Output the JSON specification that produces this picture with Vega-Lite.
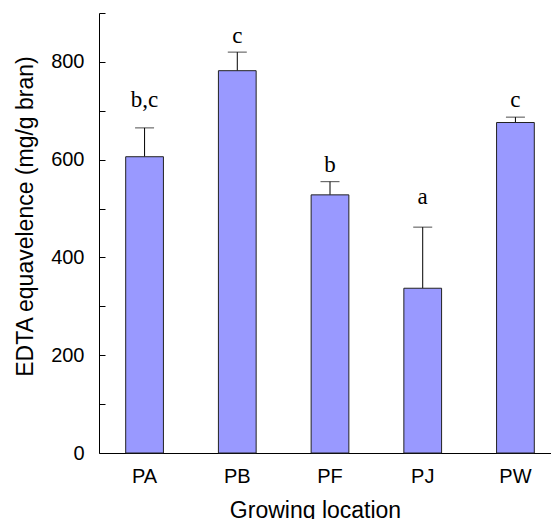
{
  "$schema": "https://vega.github.io/schema/vega-lite/v6.json",
  "width": 462,
  "height": 440,
  "autosize": "none",
  "padding": {"left": 99, "top": 13, "right": 0, "bottom": 66},
  "background": "white",
  "config": {
    "view": {"stroke": null},
    "axis": {"labelFont": "Liberation Sans", "titleFont": "Liberation Sans", "labelColor": "black", "titleColor": "black", "domainColor": "black", "tickColor": "black", "grid": false}
  },
  "data": {
    "values": [
      {"loc": "PA", "mean": 606, "upper": 665, "letter": "b,c", "labelPos": 707},
      {"loc": "PB", "mean": 782, "upper": 820, "letter": "c", "labelPos": 839},
      {"loc": "PF", "mean": 528, "upper": 555, "letter": "b", "labelPos": 575},
      {"loc": "PJ", "mean": 337, "upper": 462, "letter": "a", "labelPos": 509},
      {"loc": "PW", "mean": 676, "upper": 687, "letter": "c", "labelPos": 708}
    ]
  },
  "encoding": {
    "x": {
      "field": "loc", "type": "nominal",
      "scale": {"paddingInner": 0.593, "paddingOuter": 0.288},
      "axis": {
        "title": "Growing location", "labelAngle": 0, "ticks": false,
        "labelFontSize": 20, "labelPadding": 13,
        "titleFontSize": 23, "titleFontWeight": "normal",
        "titleX": 216, "titleY": 64, "titleBaseline": "alphabetic", "titleAlign": "center"
      }
    },
    "y": {
      "field": "mean", "type": "quantitative",
      "scale": {"domain": [0, 900], "nice": false},
      "axis": {
        "title": "EDTA equavelence (mg/g bran)",
        "values": [0, 100, 200, 300, 400, 500, 600, 700, 800, 900],
        "labelExpr": "datum.value % 200 == 0 ? datum.label : ''",
        "tickSize": -6, "labelPadding": 21, "labelFontSize": 20,
        "titleFontSize": 23, "titleFontWeight": "normal",
        "titleX": -67, "titleY": 203, "titleAngle": -90, "titleBaseline": "alphabetic", "titleAlign": "center"
      }
    }
  },
  "layer": [
    {
      "mark": {"type": "rule", "color": "black", "strokeWidth": 1},
      "encoding": {
        "y2": {"field": "upper"}
      }
    },
    {
      "mark": {"type": "tick", "color": "black", "size": 19, "thickness": 1, "orient": "horizontal"},
      "encoding": {"y": {"field": "upper", "type": "quantitative"}}
    },
    {
      "mark": {"type": "bar", "fill": "#9999FF", "stroke": "#222222", "strokeWidth": 1}
    },
    {
      "mark": {"type": "text", "font": "Liberation Serif", "fontSize": 23, "baseline": "alphabetic", "align": "center", "color": "black"},
      "encoding": {
        "y": {"field": "labelPos", "type": "quantitative"},
        "text": {"field": "letter"}
      }
    }
  ]
}
